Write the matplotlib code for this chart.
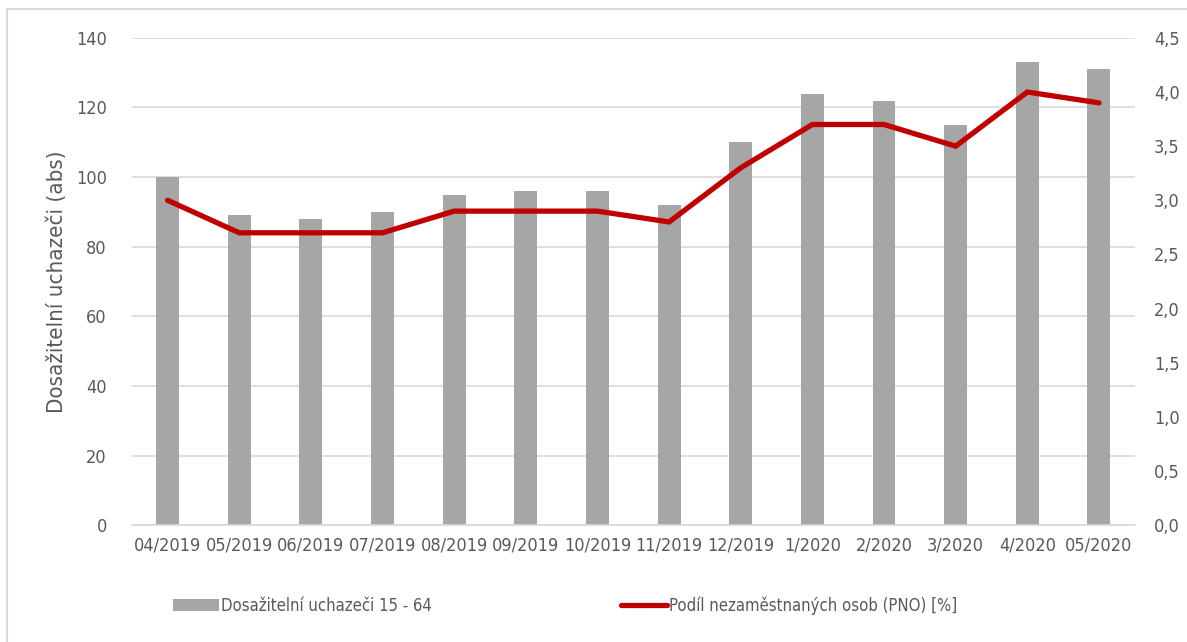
import matplotlib
matplotlib.use("Agg")
import matplotlib.pyplot as plt
from matplotlib.patches import Rectangle
import numpy as np

months = ["04/2019", "05/2019", "06/2019", "07/2019", "08/2019", "09/2019", "10/2019",
          "11/2019", "12/2019", "1/2020", "2/2020", "3/2020", "4/2020", "05/2020"]
uchazeci = [100, 89, 88, 90, 95, 96, 96, 92, 110, 124, 122, 115, 133, 131]
pno = [3.0, 2.7, 2.7, 2.7, 2.9, 2.9, 2.9, 2.8, 3.3, 3.7, 3.7, 3.5, 4.0, 3.9]

plt.rcParams['font.family'] = ['DejaVu Sans']
plt.rcParams['font.stretch'] = 'condensed'
text_color = '#595959'

fig = plt.figure(figsize=(11.87, 6.42), dpi=100)
ax = fig.add_axes([0.111, 0.182, 0.845, 0.759])
ax2 = ax.twinx()

x = np.arange(len(months))
bars = ax.bar(x, uchazeci, width=0.32, color='#A6A6A6', zorder=2,
              label='Dosažitelní uchazeči 15 - 64')
line, = ax2.plot(x, pno, color='#C00000', lw=3.8, solid_capstyle='round',
                 solid_joinstyle='miter', zorder=3,
                 label='Podíl nezaměstnaných osob (PNO) [%]')

ax.set_xlim(-0.5, len(months) - 0.5)
ax.set_ylim(0, 140)
ax.set_yticks(range(0, 141, 20))
ax2.set_ylim(0, 4.5)
ax2.set_yticks(np.arange(0, 4.51, 0.5))
ax2.set_yticklabels([f"{v:.1f}".replace('.', ',') for v in np.arange(0, 4.51, 0.5)])

ax.set_xticks(x)
ax.set_xticklabels(months)
ax.grid(axis='y', color='#D9D9D9', lw=1.2, zorder=0)
ax.set_axisbelow(True)

for a in (ax, ax2):
    for s in ('top', 'right', 'left', 'bottom'):
        a.spines[s].set_visible(False)
    a.tick_params(length=0, labelsize=13, colors=text_color)
ax.spines['bottom'].set_visible(True)
ax.spines['bottom'].set_color('#D9D9D9')
ax.spines['bottom'].set_linewidth(1.2)
ax.tick_params(axis='y', pad=18)
ax.tick_params(axis='x', pad=8)
ax2.tick_params(axis='y', pad=14)

ax.set_ylabel('Dosažitelní uchazeči (abs)', fontsize=16, color=text_color, labelpad=6)

fig.legend(handles=[bars, line], loc='center', bbox_to_anchor=(0.476, 0.057), ncol=2,
           frameon=False, fontsize=12, labelcolor=text_color, handlelength=2.75,
           handletextpad=0.1, columnspacing=11.4)

# outer frame: only top and left edges are visible in the picture
fig.patches.append(Rectangle((0.0055, -0.1), 1.2, 1.086, transform=fig.transFigure,
                             fill=False, edgecolor='#D9D9D9', lw=1.5))

fig.savefig('out.png', dpi=100)
